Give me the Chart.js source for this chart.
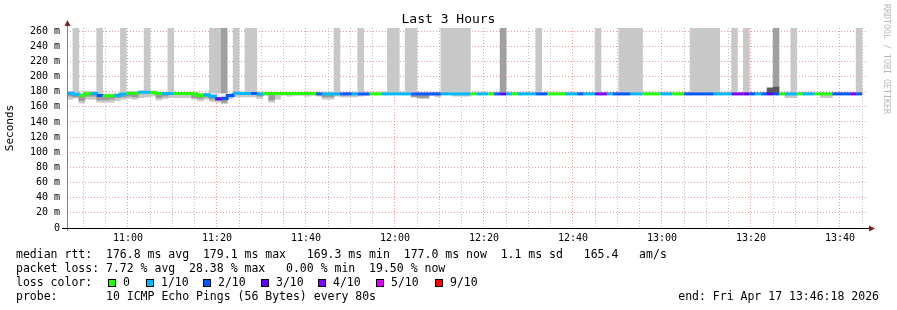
<!DOCTYPE html>
<html>
<head>
<meta charset="utf-8">
<title>Last 3 Hours</title>
<script src="https://cdn.jsdelivr.net/npm/chart.js@4.4.1/dist/chart.umd.min.js"></script>
<style>
  body { margin: 0; background: #fff; }
  #wrap { position: relative; width: 897px; height: 310px; background: #fff; overflow: hidden; }
  #c { position: absolute; left: 0; top: 0; }
  .mono { font-family: "DejaVu Sans Mono", monospace; color: #000; white-space: pre; position: absolute; }
  #title { left: 0; width: 897px; top: 11px; text-align: center; font-size: 13px; line-height: 15px; }
  #mark { left: 882px; top: 4px; font-size: 8.3px; color: #b8b8b8; writing-mode: vertical-rl; line-height: 9px; }
  .row { left: 16px; font-size: 11.5px; line-height: 14px; }
  #lossRow { width: 600px; height: 14px; }
  .sq { position: absolute; top: 4px; width: 6px; height: 6px; border: 1px solid #000; }
  .lab { position: absolute; top: 0; }
</style>
</head>
<body>
<div id="wrap">
  <canvas id="c" width="897" height="310"></canvas>
  <div id="title" class="mono">Last 3 Hours</div>
  <div id="mark" class="mono">RRDTOOL / TOBI OETIKER</div>
  <div class="mono row" style="top:247px">median rtt:  176.8 ms avg  179.1 ms max   169.3 ms min  177.0 ms now  1.1 ms sd   165.4   am/s</div>
  <div class="mono row" style="top:261px">packet loss: 7.72 % avg  28.38 % max   0.00 % min  19.50 % now</div>
  <div class="mono row" style="top:275px" id="lossRow">loss color:</div>
  <div class="mono row" style="top:289px">probe:       10 ICMP Echo Pings (56 Bytes) every 80s</div>
  <div class="mono row" style="top:289px; left:auto; right:18px">end: Fri Apr 17 13:46:18 2026</div>
</div>
<script>
// time axis: minutes since midnight, 10:46:18 -> 13:46:18, one sample every 80 s
var START = 10 * 60 + 46 + 18 / 60;
var STEP = 80 / 60;
var END = START + 180;

var xTickLabels = ['11:00', '11:20', '11:40', '12:00', '12:20', '12:40', '13:00', '13:20', '13:40'];
var yTickLabels = ['0', '20 m', '40 m', '60 m', '80 m', '100 m', '120 m', '140 m', '160 m', '180 m', '200 m', '220 m', '240 m', '260 m'];

var lossLabels = ['0', '1/10', '2/10', '3/10', '4/10', '5/10', '9/10'];
var lossColors = ['#26ff00', '#00b8ff', '#0059ff', '#5e00ff', '#7e00ff', '#dd00ff', '#ff0000'];

// median rtt per sample (ms)
var median = [
  178, 176.7, 175, 177.6, 177.6, 175, 174.7, 174.7, 175, 176.8, 177.8, 177.8, 179.1, 179.1, 179,
  177.5, 177.5, 177.5, 177.5, 177.5, 177.5, 177, 175, 176, 173.8, 170.5, 171, 175, 178, 177.5,
  177.5, 177.5, 177, 177.5, 177.5, 177.5, 177.5, 177.5, 177.5, 177.5, 177.5, 177.5, 177, 177, 177,
  177, 177, 177, 177, 177, 177, 177, 177, 177, 177, 177, 177, 177, 177, 177,
  177, 177, 177, 177, 177, 177, 177, 177, 177, 177, 177, 177, 177, 177, 177,
  177, 177, 177, 177, 177, 177, 177, 177, 177, 177, 177, 177, 177, 177, 177,
  177, 177, 177, 177, 177, 177, 177, 177, 177, 177, 177, 177, 177, 177, 177,
  177, 177, 177, 177, 177, 177, 177, 177, 177, 177, 177, 177, 177, 177, 177,
  177, 177, 177, 177, 177, 177, 177, 177, 177, 177, 177, 177, 177, 177
];

// lost pings out of 10 per sample
var loss = [
  1, 1, 0, 0, 1, 2, 0, 0, 1, 1, 0, 0, 1, 1, 0,
  0, 1, 1, 0, 0, 0, 0, 0, 1, 1, 3, 2, 2, 1, 1,
  1, 2, 1, 0, 0, 0, 0, 0, 0, 0, 0, 0, 2, 1, 1,
  1, 2, 2, 1, 2, 2, 0, 0, 1, 1, 1, 1, 1, 2, 2,
  2, 2, 2, 1, 1, 1, 1, 1, 0, 1, 1, 0, 2, 3, 1,
  0, 1, 1, 1, 2, 2, 0, 0, 0, 1, 1, 2, 1, 1, 4,
  4, 1, 2, 2, 2, 1, 1, 0, 0, 0, 1, 1, 0, 0, 2,
  2, 2, 2, 2, 1, 1, 1, 4, 4, 3, 2, 1, 2, 3, 2,
  0, 1, 1, 0, 1, 1, 0, 0, 0, 2, 2, 2, 4, 2
];

// smoke: min and max of the pings per sample (ms)
var smokeMin = [
  170, 171.5, 165, 170, 170, 166, 166, 166, 168, 170, 171, 170, 172, 173, 174,
  169, 171, 172, 172, 172, 172, 170, 168, 170, 167, 166, 164, 171, 173, 173,
  173, 173, 171, 175, 166, 170, 175, 174, 175, 175, 174, 175, 174, 170, 170,
  174, 173, 173, 173, 174, 175, 176, 176, 176, 176, 176, 176, 176, 176, 171,
  171, 175, 173, 176, 176, 174, 174, 174, 176, 176, 176, 176, 176, 176, 176,
  176, 176, 176, 176, 176, 176, 176, 176, 176, 176, 176, 176, 176, 176, 176,
  176, 176, 176, 176, 176, 176, 176, 176, 176, 176, 176, 176, 176, 176, 176,
  176, 176, 176, 176, 176, 176, 176, 176, 176, 176, 176, 176, 176, 176, 176,
  176, 172, 172, 176, 176, 176, 176, 172, 172, 176, 176, 176, 176, 176
];
var smokeMax = [
  180, 179, 178, 180, 180, 178, 177, 177, 178, 179, 180, 180, 181, 181, 181,
  179, 179, 179, 179, 179, 179, 179, 178, 178, 176, 173, 174, 177, 180, 179,
  179, 179, 179, 179, 179, 179, 179, 179, 179, 179, 179, 179, 179, 179, 179,
  179, 179, 179, 179, 179, 179, 179, 179, 179, 179, 179, 179, 179, 179, 179,
  179, 179, 179, 179, 179, 179, 179, 179, 179, 179, 179, 179, 179, 179, 179,
  179, 179, 179, 179, 179, 179, 179, 179, 179, 179, 179, 179, 179, 179, 179,
  179, 179, 179, 179, 179, 179, 179, 179, 179, 179, 179, 179, 179, 179, 179,
  179, 179, 179, 179, 179, 179, 179, 179, 179, 179, 179, 179, 179, 179, 179,
  179, 179, 179, 179, 179, 179, 179, 179, 179, 179, 179, 179, 179, 179
];
// denser smoke core below the median (ms), null where not visible
var innerMin = [
  174, 173, 168, 174, 174, 169, 169, 170, 172, 173, 174, 173, null, null, null,
  172, 174, null, null, null, null, 172, 171, 173, 170, 168, 166, 173, null, null,
  null, null, 174, null, 169, null, null, null, null, null, null, null, null, 173, 173,
  null, null, null, null, null, null, null, null, null, null, null, null, null, 173, 172,
  172, null, null, null, null, null, null, null, null, null, null, null, null, null, null,
  null, null, null, null, null, null, null, null, null, null, null, null, null, null, null,
  null, null, null, null, null, null, null, null, null, null, null, null, null, null, null,
  null, null, null, null, null, null, null, null, null, null, null, null, null, null, null,
  null, null, null, null, null, null, null, null, null, null, null, null, null, null
];

// samples where the slowest ping went off the scale
var spikeLight = [1, 5, 9, 13, 17, 24, 25, 28, 30, 31, 45, 49, 54, 55, 57, 58, 63, 64, 65, 66, 67,
                  79, 89, 93, 94, 95, 96, 105, 106, 107, 108, 109, 112, 114, 122, 133];
var spikeDark = [26, 73, 119];
var spikeBase = 178;
var spikeTop = 300;
// dark smoke bump above the median: [sample, top ms]
var darkBumps = [[118, 185], [119, 186]];

function center(i) { return START + (i + 0.5) * STEP; }

var medianPts = median.map(function (v, i) { return { x: START + i * STEP, y: v }; });
medianPts.push({ x: START + median.length * STEP, y: median[median.length - 1] });

var smokePts = smokeMin.map(function (v, i) { return { x: center(i), y: [v, smokeMax[i]] }; });
var innerPts = [];
innerMin.forEach(function (v, i) { if (v !== null) innerPts.push({ x: center(i), y: [v, median[i]] }); });
var spikePts = spikeLight.map(function (i) { return { x: center(i), y: [spikeBase, spikeTop] }; });
var spikeDarkPts = spikeDark.map(function (i) { return { x: center(i), y: [spikeBase, spikeTop] }; });
var bumpPts = darkBumps.map(function (b) { return { x: center(b[0]), y: [median[b[0]], b[1]] }; });

function toMinutes(lbl) { var p = lbl.split(':'); return +p[0] * 60 + +p[1]; }
var xGrid = [];
for (var m = Math.ceil(START / 5) * 5; m <= END; m += 5) xGrid.push(m);
var yGrid = [];
for (var v = 0; v <= 260; v += 10) yGrid.push(v);

var MAJOR = 'rgba(240, 120, 120, 0.75)';
var MINOR = 'rgba(170, 170, 170, 0.75)';
var mono = 'DejaVu Sans Mono';

function lossColor(n) {
  var idx = lossLabels.indexOf(n === 0 ? '0' : n + '/10');
  return idx < 0 ? lossColors[lossColors.length - 1] : lossColors[idx];
}

// axis lines with the rrdtool arrows
var axisArrows = {
  id: 'axisArrows',
  afterDraw: function (chart) {
    var ctx = chart.ctx, a = chart.chartArea;
    ctx.save();
    ctx.lineWidth = 1;
    ctx.strokeStyle = '#808080';
    ctx.beginPath();
    ctx.moveTo(Math.round(a.left) + 0.5, a.bottom + 3);
    ctx.lineTo(Math.round(a.left) + 0.5, a.top - 5);
    ctx.stroke();
    ctx.strokeStyle = '#000';
    ctx.beginPath();
    ctx.moveTo(a.left - 5, Math.round(a.bottom) + 0.5);
    ctx.lineTo(a.right + 2, Math.round(a.bottom) + 0.5);
    ctx.stroke();
    ctx.fillStyle = '#7f1f1f';
    var lx = Math.round(a.left) + 0.5;
    ctx.beginPath();
    ctx.moveTo(lx - 3, a.top - 2);
    ctx.lineTo(lx + 3, a.top - 2);
    ctx.lineTo(lx, a.top - 8);
    ctx.closePath();
    ctx.fill();
    var by = Math.round(a.bottom) + 0.5;
    ctx.beginPath();
    ctx.moveTo(a.right + 1, by - 3);
    ctx.lineTo(a.right + 1, by + 3);
    ctx.lineTo(a.right + 7, by);
    ctx.closePath();
    ctx.fill();
    ctx.restore();
  }
};

var ctx = document.getElementById('c').getContext('2d');
new Chart(ctx, {
  type: 'bar',
  data: {
    datasets: [
      {
        type: 'line', label: 'median rtt', data: medianPts, stepped: true,
        borderWidth: 3, pointRadius: 0, borderColor: lossColors[0], borderCapStyle: 'butt',
        segment: { borderColor: function (c) { return lossColor(loss[c.p0DataIndex]); } },
        order: 0
      },
      { label: 'bump', data: bumpPts, backgroundColor: '#5a5a5a', order: 1 },
      { label: 'smoke core', data: innerPts, backgroundColor: '#9a9a9a', order: 2 },
      { label: 'smoke', data: smokePts, backgroundColor: '#c8c8c8', order: 3 },
      { label: 'spike dark', data: spikeDarkPts, backgroundColor: '#a0a0a0', order: 4 },
      { label: 'spike', data: spikePts, backgroundColor: '#c8c8c8', order: 5 }
    ]
  },
  options: {
    responsive: false,
    animation: false,
    layout: { padding: { left: 0, right: 29, top: 28, bottom: 62 } },
    plugins: { legend: { display: false }, tooltip: { enabled: false } },
    datasets: { bar: { grouped: false, barPercentage: 1, categoryPercentage: 1, borderWidth: 0 } },
    scales: {
      x: {
        type: 'linear', min: START, max: END, z: 1, offset: false,
        afterBuildTicks: function (s) { s.ticks = xGrid.map(function (v) { return { value: v }; }); },
        afterFit: function (s) { s.height = 20; },
        ticks: {
          autoSkip: false, maxRotation: 0, padding: 4, color: '#000',
          font: { family: mono, size: 10 },
          callback: function (v) {
            var i = xTickLabels.map(toMinutes).indexOf(Math.round(v));
            return i < 0 ? '' : xTickLabels[i];
          }
        },
        grid: {
          offset: false, drawTicks: false, lineWidth: 1,
          color: function (c) { return c.tick && Math.round(c.tick.value) % 20 === 0 ? MAJOR : MINOR; }
        },
        border: { display: false, dash: [1, 2] }
      },
      y: {
        min: 0, max: 264, stacked: false, z: 1,
        afterBuildTicks: function (s) { s.ticks = yGrid.map(function (v) { return { value: v }; }); },
        afterFit: function (s) { s.width = 67; },
        ticks: {
          padding: 7, color: '#000', font: { family: mono, size: 10 },
          callback: function (v) { return v % 20 === 0 ? yTickLabels[v / 20] : ''; }
        },
        grid: {
          drawTicks: false, lineWidth: 1,
          color: function (c) { return c.tick && c.tick.value % 20 === 0 ? MAJOR : MINOR; }
        },
        border: { display: false, dash: [1, 2] },
        title: { display: true, text: 'Seconds', color: '#000', font: { family: mono, size: 11 }, padding: { top: 4, bottom: 0 } }
      }
    }
  },
  plugins: [axisArrows]
});

// loss colour legend row: swatch, then its label
var swatchX = [92, 130, 187, 245, 302, 360, 419];
var row = document.getElementById('lossRow');
lossLabels.forEach(function (lbl, i) {
  var sq = document.createElement('span');
  sq.className = 'sq';
  sq.style.left = swatchX[i] + 'px';
  sq.style.background = lossColors[i];
  row.appendChild(sq);
  var t = document.createElement('span');
  t.className = 'lab';
  t.style.left = (swatchX[i] + 15) + 'px';
  t.textContent = lbl;
  row.appendChild(t);
});
</script>
</body>
</html>
